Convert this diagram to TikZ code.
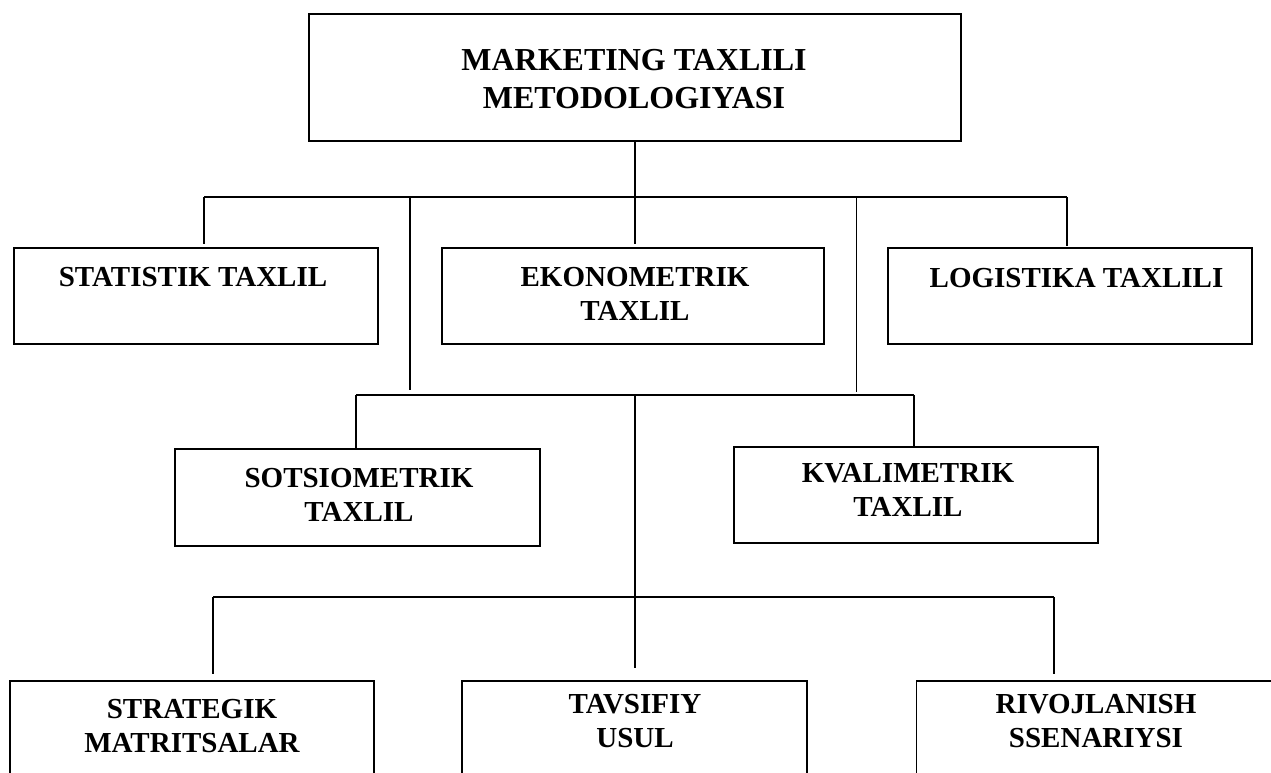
\documentclass[tikz,border=0pt]{standalone}
\usepackage{fontspec}
\setmainfont{Liberation Serif}
\begin{document}
\begin{tikzpicture}[x=1pt,y=-1pt,
  boxA/.style={draw, line width=2.2pt, inner sep=0pt},
  boxB/.style={draw, line width=1.4pt, inner sep=0pt},
  lab/.style={font=\bfseries\fontsize{29}{34.5}\selectfont, align=center, inner sep=0pt, anchor=north},
  labtop/.style={font=\bfseries\fontsize{32}{38}\selectfont, align=center, inner sep=0pt, anchor=north},
  thickln/.style={line width=2.2pt},
  midln/.style={line width=1.5pt},
  thinln/.style={line width=1.2pt}]
\clip (0,0) rectangle (1271,772);
\fill[white] (0,0) rectangle (1271,772);

% boxes
\node[boxA, minimum width=652pt, minimum height=127pt] (top) at (635,77.5) {};
\node[boxA, minimum width=364pt, minimum height=96pt] (stat) at (196,296) {};
\node[boxA, minimum width=382pt, minimum height=96pt] (eko) at (633,296) {};
\node[boxA, minimum width=364pt, minimum height=96pt] (logi) at (1070,296) {};
\node[boxB, minimum width=365pt, minimum height=97pt] (sots) at (357.5,497.5) {};
\node[boxB, minimum width=364pt, minimum height=96pt] (kval) at (916,495) {};
\node[boxB, minimum width=364pt, minimum height=119pt] (strat) at (192,740.5) {};
\node[boxB, minimum width=345pt, minimum height=119pt] (tavs) at (634.5,740.5) {};
\node[boxB, minimum width=383pt, minimum height=119pt] (rivo) at (1108,740.5) {};

% labels
\node[labtop] (ttop) at (634,49) {MARKETING TAXLILI\\METODOLOGIYASI};
\node[lab] (tstat) at (193,267.5) {STATISTIK TAXLIL};
\node[lab] (teko) at (635,266.8) {EKONOMETRIK\\TAXLIL};
\node[lab] (tlogi) at (1076.5,267.8) {LOGISTIKA TAXLILI};
\node[lab] (tsots) at (359,467.8) {SOTSIOMETRIK\\TAXLIL};
\node[lab] (tkval) at (908,462.8) {KVALIMETRIK\\TAXLIL};
\node[lab] (tstrat) at (192,698.8) {STRATEGIK\\MATRITSALAR};
\node[lab] (ttavs) at (635,693.8) {TAVSIFIY\\USUL};
\node[lab] (trivo) at (1096,693.8) {RIVOJLANISH\\SSENARIYSI};

% junction coordinates
\coordinate (barL) at (204,197);
\coordinate (barR) at (1067,197);
\coordinate (barC) at (635,197);
\coordinate (ekoin) at (635,244);
\coordinate (statin) at (204,244);
\coordinate (login) at (1067,246);
\coordinate (vl0) at (410,197);
\coordinate (vl1) at (410,390);
\coordinate (vr0) at (856.5,197);
\coordinate (vr1) at (856.5,392);
\coordinate (midL) at (356,395);
\coordinate (midR) at (914,395);
\coordinate (midC) at (635,395);
\coordinate (lowL) at (213,597);
\coordinate (lowR) at (1054,597);
\coordinate (lowC) at (635,668);
\coordinate (stratin) at (213,674);
\coordinate (rivoin) at (1054,674);

% upper connectors
\draw[thickln] (top.south -| barC) -- (ekoin);
\draw[thickln] (barL) -- (barR);
\draw[thickln] (barL) -- (statin);
\draw[thickln] (barR) -- (login);
\draw[midln] (vl0) -- (vl1);
\draw[midln] (vr0) -- (vr1);

% middle connectors
\draw[thinln] (midL) -- (midR);
\draw[thinln] (midL) -- (sots.north -| midL);
\draw[thinln] (midR) -- (kval.north -| midR);
\draw[thinln] (midC) -- (lowC);

% lower connectors
\draw[thinln] (lowL) -- (lowR);
\draw[thinln] (lowL) -- (stratin);
\draw[thinln] (lowR) -- (rivoin);
\end{tikzpicture}
\end{document}
